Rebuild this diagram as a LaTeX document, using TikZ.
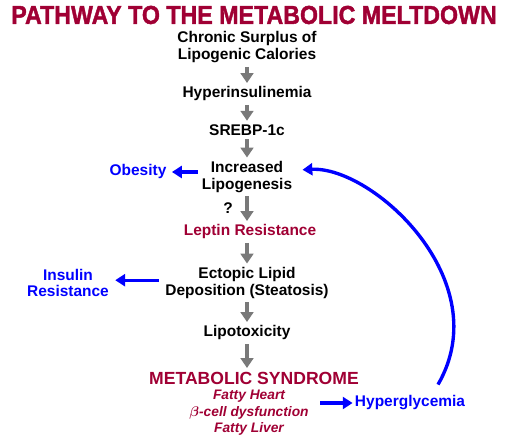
\documentclass[tikz,border=0pt]{standalone}
\usepackage{amsmath}
\usepackage{fontspec}
\setmainfont{Liberation Sans}
\newfontfamily\heavyfont[FakeBold=1.6]{Liberation Sans Bold}
\usetikzlibrary{arrows.meta}
\definecolor{wine}{RGB}{160,0,52}
\definecolor{pureblue}{RGB}{0,0,255}
\begin{document}
\begin{tikzpicture}[
    stage/.style={font=\bfseries\fontsize{11}{12}\selectfont, align=center, inner sep=1.5pt},
    flow/.style={draw=gray!95!black, line width=3pt, -{Triangle[length=7pt, width=9pt]}, shorten >=1pt, shorten <=1pt},
    side/.style={draw=pureblue, line width=2.4pt, -{Triangle[length=7pt, width=8.5pt]}}
  ]
  \useasboundingbox (0,0) rectangle (12.65,10.975);

  % Nodes
  \node (title) at (6.35,10.6) [font=\fontsize{16.5}{18}\selectfont\heavyfont, text=wine] {\scalebox{1.0}[1.12]{PATHWAY TO THE METABOLIC MELTDOWN}};
  \node (surplus) at (6.175,9.79) [stage] {Chronic Surplus of\\Lipogenic Calories};
  \node (hyperins) at (6.175,8.625) [stage] {Hyperinsulinemia};
  \node (srebp) at (6.175,7.725) [stage] {SREBP-1c};
  \node (lipo) at (6.175,6.55) [stage] {Increased\\Lipogenesis};
  \node (obesity) at (3.45,6.675) [stage, text=pureblue] {Obesity};
  \node (quest) at (5.7,5.775) [stage] {?};
  \node (leptin) at (6.25,5.175) [stage, text=wine] {Leptin Resistance};
  \node (ectopic) at (6.175,3.9) [stage] {Ectopic Lipid\\Deposition (Steatosis)};
  \node (insulin) at (1.7,3.9) [stage, text=pureblue] {Insulin\\Resistance};
  \node (lipotox) at (6.175,2.65) [stage] {Lipotoxicity};
  \node (metsyn) at (6.35,1.525) [font=\bfseries\fontsize{12.5}{14}\selectfont, text=wine, inner sep=1.5pt] {METABOLIC SYNDROME};
  \node (organs) at (6.225,0.65) [font=\bfseries\itshape\fontsize{9.8}{11.7}\selectfont, text=wine, align=center, inner sep=1pt] {Fatty Heart\\$\boldsymbol{\beta}$-cell dysfunction\\Fatty Liver};
  \node (hyperglyc) at (10.25,0.9) [stage, text=pureblue] {Hyperglycemia};

  % Edges
  \draw[flow] (surplus.south -| 6.175,0) -- (hyperins.north -| 6.175,0);
  \draw[flow] (hyperins.south -| 6.175,0) -- (srebp.north -| 6.175,0);
  \draw[flow] (srebp.south -| 6.175,0) -- (lipo.north -| 6.175,0);
  \draw[flow] (lipo.south -| 6.175,0) -- (leptin.north -| 6.175,0);
  \draw[flow] (leptin.south -| 6.175,0) -- (ectopic.north -| 6.175,0);
  \draw[flow] (ectopic.south -| 6.175,0) -- (lipotox.north -| 6.175,0);
  \draw[flow] (lipotox.south -| 6.175,0) -- (metsyn.north -| 6.175,0);

  \draw[side] ([xshift=-0.05cm]lipo.west |- obesity) -- ([xshift=0.08cm]obesity.east);
  \draw[side] ([xshift=-0.1cm, yshift=0.07cm]ectopic.west) -- ([xshift=0.1cm, yshift=0.07cm]insulin.east);
  \draw[side] ([xshift=0.25cm]organs.east |- hyperglyc) -- (hyperglyc.west);
  \draw[side] ([xshift=0.7cm, yshift=0.22cm]hyperglyc.north) .. controls +(60:3) and +(3:1.75) .. ([xshift=0.2cm, yshift=0.18cm]lipo.east);
\end{tikzpicture}
\end{document}
